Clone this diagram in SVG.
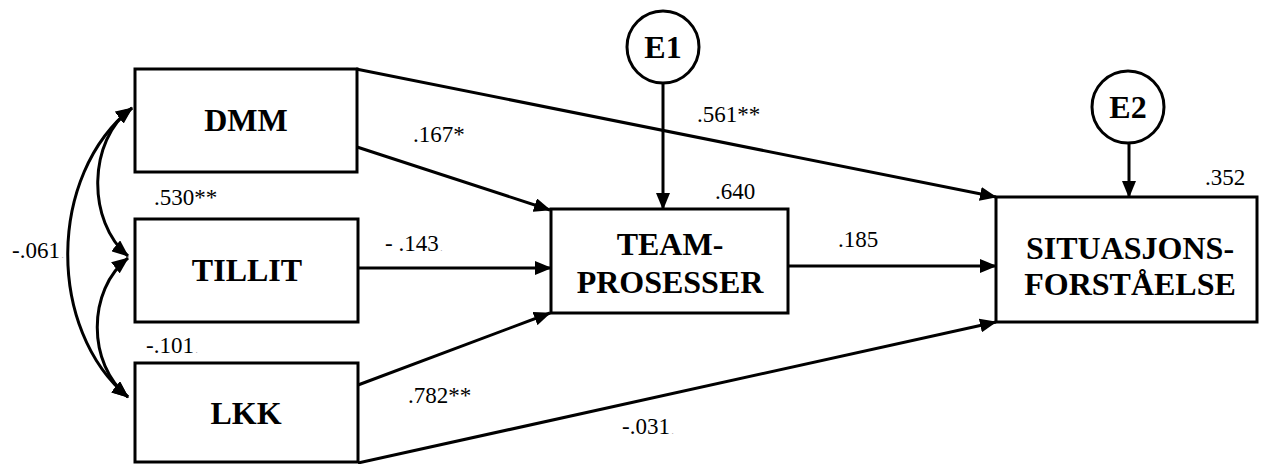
<svg xmlns="http://www.w3.org/2000/svg" width="1264" height="464" viewBox="0 0 1264 464">
  <style>
    .box { fill: #ffffff; stroke: #000000; stroke-width: 3; }
    .err { fill: #ffffff; stroke: #000000; stroke-width: 3; }
    text { font-family: 'Liberation Serif', 'DejaVu Serif', 'Times New Roman', Times, serif; fill: #000000; }
    .name { font-weight: bold; font-size: 32px; text-anchor: middle; }
    .coef { font-size: 23px; }
    .dot { font-size: 7px; fill: #777777; }
    .path { fill: none; stroke: #000000; stroke-width: 3; }
  </style>
  <defs>
    <marker id="arrow" markerUnits="userSpaceOnUse" markerWidth="17" markerHeight="14" refX="16" refY="7" orient="auto">
      <path d="M0,0 L17,7 L0,14 Z" fill="#000000"/>
    </marker>
    <marker id="arrow2" markerUnits="userSpaceOnUse" markerWidth="17" markerHeight="14" refX="16" refY="7" orient="auto-start-reverse">
      <path d="M0,0 L17,7 L0,14 Z" fill="#000000"/>
    </marker>
  </defs>

  <!-- paths and covariances -->
  <g id="connectors">
    <!-- covariances between the predictors -->
    <path class="path" d="M132,108 C87,140 87,222 128,256" marker-start="url(#arrow2)" marker-end="url(#arrow2)"/>
    <path class="path" d="M128,258 C87,290 87,364 128,397" marker-start="url(#arrow2)" marker-end="url(#arrow2)"/>
    <path class="path" d="M132,108 C47,175 47,330 128,397" marker-start="url(#arrow2)" marker-end="url(#arrow2)"/>

    <!-- error terms -->
    <line class="path" x1="663" y1="83" x2="663" y2="209" marker-end="url(#arrow)"/>
    <line class="path" x1="1129" y1="143" x2="1129" y2="197" marker-end="url(#arrow)"/>

    <!-- predictors to TEAM-PROSESSER -->
    <line class="path" x1="357" y1="147" x2="550" y2="210" marker-end="url(#arrow)"/>
    <line class="path" x1="358" y1="268" x2="551" y2="268" marker-end="url(#arrow)"/>
    <line class="path" x1="358" y1="385" x2="550" y2="313" marker-end="url(#arrow)"/>

    <!-- paths to SITUASJONSFORSTÅELSE -->
    <line class="path" x1="356" y1="69" x2="996" y2="197" marker-end="url(#arrow)"/>
    <line class="path" x1="788" y1="266" x2="996" y2="266" marker-end="url(#arrow)"/>
    <line class="path" x1="358" y1="463" x2="996" y2="322" marker-end="url(#arrow)"/>
  </g>

  <g id="dmm">
    <rect class="box" x="135" y="69" width="222" height="103"/>
    <text class="name" x="246" y="131">DMM</text>
  </g>
  <g id="tillit">
    <rect class="box" x="135" y="219" width="223" height="103"/>
    <text class="name" x="247" y="281">TILLIT</text>
  </g>
  <g id="lkk">
    <rect class="box" x="135" y="363" width="223" height="99"/>
    <text class="name" x="246" y="424">LKK</text>
  </g>
  <g id="team">
    <rect class="box" x="551" y="209" width="237" height="104"/>
    <text class="name" x="670" y="255">TEAM-</text>
    <text class="name" x="670" y="293">PROSESSER</text>
  </g>
  <g id="situasjon">
    <rect class="box" x="996" y="197" width="261" height="125"/>
    <text class="name" x="1130" y="259">SITUASJONS-</text>
    <text class="name" x="1130" y="295">FORSTÅELSE</text>
  </g>
  <g id="e1">
    <circle class="err" cx="663" cy="47" r="36"/>
    <text class="name" x="663" y="58">E1</text>
  </g>
  <g id="e2">
    <circle class="err" cx="1128" cy="107" r="36"/>
    <text class="name" x="1128" y="118">E2</text>
  </g>

  <!-- coefficients -->
  <g id="labels">
    <text class="coef" x="697" y="122">.561**</text>
    <text class="coef" x="413" y="142">.167*</text>
    <text class="coef" x="385" y="251">- .143<tspan class="dot"> .</tspan></text>
    <text class="coef" x="408" y="403">.782**</text>
    <text class="coef" x="622" y="434">-.031<tspan class="dot"> .</tspan></text>
    <text class="coef" x="715" y="199">.640</text>
    <text class="coef" x="838" y="247">.185</text>
    <text class="coef" x="1205" y="185">.352</text>
    <text class="coef" x="154" y="205">.530**</text>
    <text class="coef" x="12" y="258">-.061<tspan class="dot"> .</tspan></text>
    <text class="coef" x="146" y="353">-.101<tspan class="dot"> .</tspan></text>
  </g>
</svg>
